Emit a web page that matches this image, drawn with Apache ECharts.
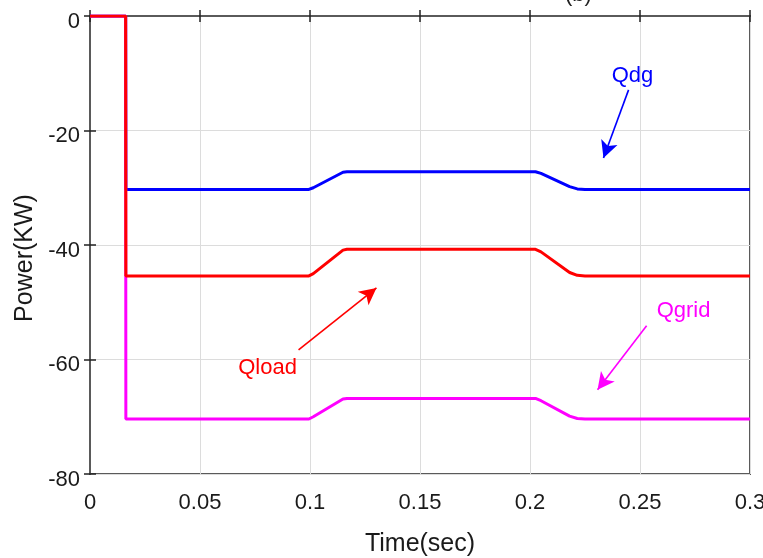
<!DOCTYPE html>
<html>
<head>
<meta charset="utf-8">
<script src="https://cdn.jsdelivr.net/npm/echarts@6/dist/echarts.min.js"></script>
<style>
  html, body { margin: 0; padding: 0; background: #fff; }
  #chart { width: 763px; height: 558px; }
</style>
</head>
<body>
<div id="chart"></div>
<script>
// Reactive power traces (kW) against simulation time (s)
const qdgTime   = [0, 0.0162, 0.0163, 0.0995, 0.1015, 0.1150, 0.1168, 0.2025, 0.2050, 0.2180, 0.2215, 0.2250, 0.3];
const qdgValue  = [0, 0, -30.3, -30.3, -30.0, -27.3, -27.2, -27.2, -27.5, -29.8, -30.2, -30.3, -30.3];

const qgridTime  = [0, 0.0162, 0.0163, 0.0995, 0.1015, 0.1150, 0.1168, 0.2025, 0.2050, 0.2180, 0.2215, 0.2250, 0.3];
const qgridValue = [0, 0, -70.4, -70.4, -70.0, -66.9, -66.8, -66.8, -67.2, -69.9, -70.3, -70.4, -70.4];

const qloadTime  = [0, 0.0162, 0.0163, 0.0995, 0.1015, 0.1150, 0.1168, 0.2025, 0.2050, 0.2180, 0.2215, 0.2250, 0.3];
const qloadValue = [0, 0, -45.4, -45.4, -45.0, -40.9, -40.75, -40.75, -41.2, -44.8, -45.3, -45.4, -45.4];

const xTicks = [0, 0.05, 0.1, 0.15, 0.2, 0.25, 0.3];
const yTicks = [-80, -60, -40, -20, 0];

// Annotation anchors in data units: label centre, arrow tail, arrow tip
const qdgNote   = { text: 'Qdg',   label: [0.2466, -10.5], tail: [0.2448, -12.9], tip: [0.2334, -24.8] };
const qloadNote = { text: 'Qload', label: [0.0807, -61.5], tail: [0.0948, -58.3], tip: [0.1302, -47.5] };
const qgridNote = { text: 'Qgrid', label: [0.2698, -51.5], tail: [0.2530, -54.1], tip: [0.2307, -65.3] };

const zip = (t, v) => t.map((x, i) => [x, v[i]]);

const FONT = 'Liberation Sans, Arial, sans-serif';

function annotate(note, color) {
  return {
    markPoint: {
      symbol: 'circle',
      symbolSize: 0,
      silent: true,
      data: [{
        coord: note.label,
        label: { show: true, position: 'inside', formatter: note.text, color: color, fontSize: 22, fontFamily: FONT }
      }]
    },
    markLine: {
      silent: true,
      symbolSize: [13, 17],
      lineStyle: { color: color, width: 1.6, type: 'solid' },
      label: { show: false },
      data: [[
        { coord: note.tail, symbol: 'none' },
        { coord: note.tip, symbol: 'arrow' }
      ]]
    }
  };
}

function lineSeries(name, data, color, note) {
  return Object.assign({
    name: name,
    type: 'line',
    data: data,
    showSymbol: false,
    symbol: 'none',
    lineStyle: { color: color, width: 3 },
    itemStyle: { color: color },
    z: 3
  }, annotate(note, color));
}

const chart = echarts.init(document.getElementById('chart'), null, { renderer: 'canvas' });

const axisLine = { show: true, lineStyle: { color: '#5a5a5a', width: 2 } };
const tickStyle = { show: true, inside: true, length: 6, lineStyle: { color: '#222', width: 1.5 } };

chart.setOption({
  animation: false,
  backgroundColor: '#fff',
  title: {
    text: '(b)',
    left: 560,
    top: -21,
    textStyle: { fontSize: 22, fontWeight: 'normal', color: '#222', fontFamily: FONT }
  },
  grid: {
    left: 90, top: 16, width: 660, height: 458,
    outerBoundsMode: 'none',
    containLabel: false,
    show: true, borderColor: '#5a5a5a', borderWidth: 2, backgroundColor: '#fff'
  },
  xAxis: [{
    type: 'value',
    min: xTicks[0],
    max: xTicks[xTicks.length - 1],
    interval: 0.05,
    position: 'bottom',
    axisLine: axisLine,
    axisTick: tickStyle,
    splitLine: { show: true, lineStyle: { color: '#dcdcdc', width: 1 } },
    axisLabel: { color: '#1a1a1a', fontSize: 22, fontFamily: FONT, margin: 18, formatter: v => String(+v.toFixed(2)) },
    name: 'Time(sec)',
    nameLocation: 'middle',
    nameGap: 58,
    nameTextStyle: { color: '#1a1a1a', fontSize: 25, fontFamily: FONT }
  }, {
    type: 'value',
    min: xTicks[0],
    max: xTicks[xTicks.length - 1],
    interval: 0.05,
    position: 'top',
    axisLine: axisLine,
    axisTick: tickStyle,
    splitLine: { show: false },
    axisLabel: { show: false }
  }],
  yAxis: [{
    type: 'value',
    min: yTicks[0],
    max: yTicks[yTicks.length - 1],
    interval: 20,
    position: 'left',
    axisLine: axisLine,
    axisTick: tickStyle,
    splitLine: { show: true, lineStyle: { color: '#dcdcdc', width: 1 } },
    axisLabel: {
      margin: 10,
      formatter: v => '{t|' + v + '}',
      rich: { t: { color: '#1a1a1a', fontSize: 22, fontFamily: FONT, padding: [11, 0, 0, 0] } }
    },
    name: 'Power(KW)',
    nameLocation: 'middle',
    nameGap: 48,
    nameTextStyle: { color: '#1a1a1a', fontSize: 25, fontFamily: FONT, padding: [0, 26, 0, 0] }
  }, {
    type: 'value',
    min: yTicks[0],
    max: yTicks[yTicks.length - 1],
    interval: 20,
    position: 'right',
    axisLine: axisLine,
    axisTick: tickStyle,
    splitLine: { show: false },
    axisLabel: { show: false }
  }],
  series: [
    lineSeries('Qdg', zip(qdgTime, qdgValue), '#0000ff', qdgNote),
    lineSeries('Qgrid', zip(qgridTime, qgridValue), '#ff00ff', qgridNote),
    lineSeries('Qload', zip(qloadTime, qloadValue), '#ff0000', qloadNote)
  ]
});
</script>
</body>
</html>
